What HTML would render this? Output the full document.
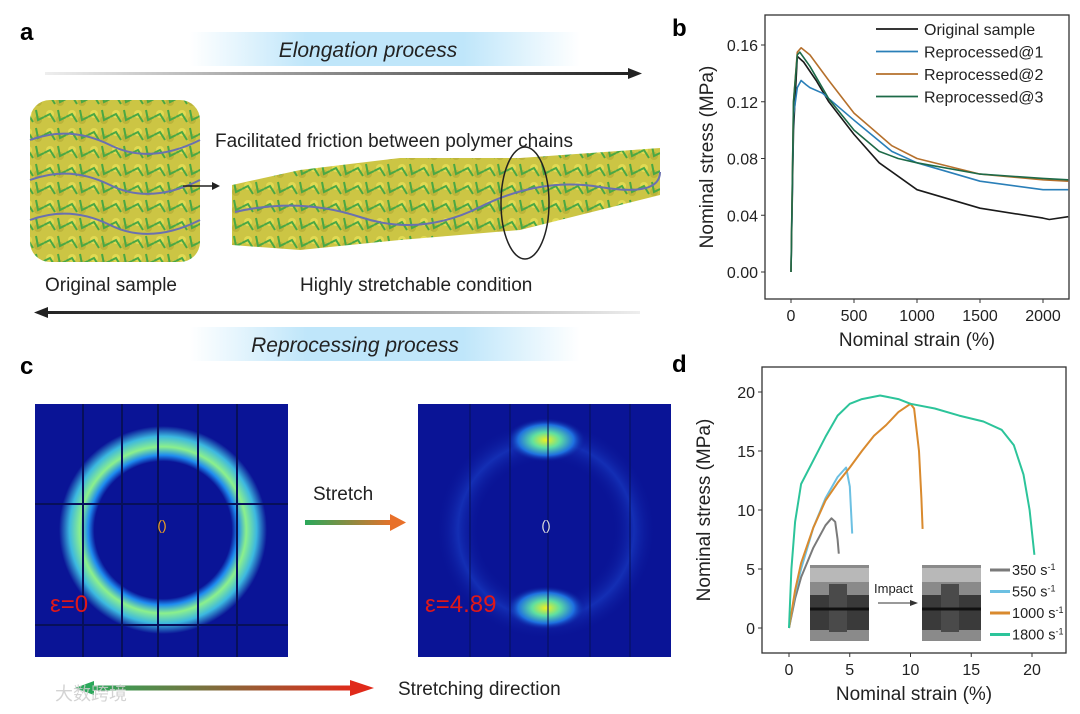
<!DOCTYPE html>
<html><head><meta charset="utf-8"><style>
html,body{margin:0;padding:0;background:#fff;}
svg{display:block;font-family:"Liberation Sans","Noto Sans CJK SC",sans-serif;}
</style></head><body>
<svg id="fig" width="1080" height="714" viewBox="0 0 1080 714">
<defs>
<linearGradient id="glow" x1="0" x2="1"><stop offset="0" stop-color="#fff"/><stop offset="0.3" stop-color="#bfe6fa"/><stop offset="0.7" stop-color="#bfe6fa"/><stop offset="1" stop-color="#fff"/></linearGradient>
<linearGradient id="lineG" x1="0" x2="1"><stop offset="0" stop-color="#eee"/><stop offset="1" stop-color="#222"/></linearGradient>
<linearGradient id="lineG2" x1="0" x2="1"><stop offset="0" stop-color="#222"/><stop offset="1" stop-color="#eee"/></linearGradient>
<linearGradient id="gr" x1="0" x2="1"><stop offset="0" stop-color="#2aa85a"/><stop offset="1" stop-color="#e8702a"/></linearGradient>
<linearGradient id="gr2" x1="0" x2="1"><stop offset="0" stop-color="#2aa85a"/><stop offset="1" stop-color="#e02a1a"/></linearGradient>
<radialGradient id="ring" cx="0.5" cy="0.5" r="0.5"><stop offset="0.66" stop-color="#0a1496"/><stop offset="0.72" stop-color="#1e8cf0"/><stop offset="0.8" stop-color="#8cf08c"/><stop offset="0.9" stop-color="#3cb8e0"/><stop offset="1" stop-color="#0a1496"/></radialGradient>
<radialGradient id="spot" cx="0.5" cy="0.5" r="0.5"><stop offset="0" stop-color="#f0f020"/><stop offset="0.35" stop-color="#60e0a0"/><stop offset="0.7" stop-color="#1e70e0"/><stop offset="1" stop-color="#0a1496" stop-opacity="0"/></radialGradient>
<radialGradient id="halo" cx="0.5" cy="0.5" r="0.5"><stop offset="0.6" stop-color="#0a1496" stop-opacity="0"/><stop offset="0.8" stop-color="#1a40c8"/><stop offset="1" stop-color="#0a1496" stop-opacity="0"/></radialGradient>
<pattern id="poly" width="22" height="18" patternUnits="userSpaceOnUse"><rect width="22" height="18" fill="#c9c23a"/><circle cx="6" cy="6" r="4" fill="#e0d84a"/><circle cx="16" cy="12" r="4" fill="#b8b030"/><path d="M0 9 L6 6 L11 14 M14 2 L16 12 L22 9" stroke="#3fa33a" stroke-width="2" fill="none"/></pattern>
</defs>

<g>
<text x="20" y="40" font-size="24" font-weight="bold">a</text>
<rect x="190" y="32" width="390" height="34" fill="url(#glow)"/>
<text x="368" y="57" font-size="21" font-style="italic" text-anchor="middle" fill="#222">Elongation process</text>
<rect x="45" y="72" width="585" height="3" fill="url(#lineG)"/>
<polygon points="628,68 642,73.5 628,79" fill="#222"/>
<text x="215" y="147" font-size="19" fill="#222">Facilitated friction between polymer chains</text>
<rect x="30" y="100" width="170" height="162" rx="20" fill="url(#poly)" opacity="0.95"/>
<path d="M30 140 Q70 125 110 145 T200 140 M30 180 Q70 165 110 185 T200 180 M30 220 Q70 205 110 225 T200 220" stroke="#6a70b0" stroke-width="2" fill="none"/>
<line x1="183" y1="186" x2="212" y2="186" stroke="#222" stroke-width="1.5"/><polygon points="212,182 220,186 212,190" fill="#222"/>
<path d="M232 185 L300 170 L400 158 L520 158 L660 148 L660 195 L520 230 L400 240 L300 250 L232 245 Z" fill="url(#poly)" opacity="0.95"/>
<path d="M235 212 Q300 197 360 217 T480 207 T600 187 T660 172" stroke="#6a70b0" stroke-width="2" fill="none"/>
<ellipse cx="525" cy="203" rx="24" ry="56" fill="none" stroke="#222" stroke-width="1.5"/>
<text x="45" y="291" font-size="19" fill="#222">Original sample</text>
<text x="300" y="291" font-size="19" fill="#222">Highly stretchable condition</text>
<rect x="45" y="311" width="595" height="3" fill="url(#lineG2)"/>
<polygon points="48,307 34,312.5 48,318" fill="#222"/>
<rect x="190" y="327" width="390" height="34" fill="url(#glow)"/>
<text x="355" y="352" font-size="21" font-style="italic" text-anchor="middle" fill="#222">Reprocessing process</text>
</g>

<g>
<text x="20" y="374" font-size="24" font-weight="bold">c</text>
<g>
<rect x="35" y="404" width="253" height="253" fill="#0a1496"/>
<circle cx="163" cy="530" r="104" fill="url(#ring)"/>
<g stroke="#07105a" stroke-width="2"><line x1="83" y1="404" x2="83" y2="657"/><line x1="122" y1="404" x2="122" y2="657"/><line x1="158" y1="404" x2="158" y2="657"/><line x1="198" y1="404" x2="198" y2="657"/><line x1="237" y1="404" x2="237" y2="657"/><line x1="35" y1="504" x2="288" y2="504"/><line x1="35" y1="625" x2="288" y2="625"/></g>
<text x="162" y="530" font-size="14" fill="#f0a020" text-anchor="middle">()</text>
<text x="50" y="612" font-size="24" fill="#e01818">ε=0</text>
</g>
<text x="313" y="500" font-size="19" fill="#222">Stretch</text>
<rect x="305" y="520" width="88" height="5" fill="url(#gr)"/><polygon points="390,514 406,522.5 390,531" fill="#e8702a"/>
<g>
<rect x="418" y="404" width="253" height="253" fill="#0a1496"/>
<circle cx="546" cy="530" r="110" fill="url(#halo)" opacity="0.6"/>
<ellipse cx="546" cy="440" rx="40" ry="22" fill="url(#spot)"/>
<ellipse cx="546" cy="608" rx="40" ry="22" fill="url(#spot)"/>
<g stroke="#07105a" stroke-width="1.5" opacity="0.7"><line x1="470" y1="404" x2="470" y2="657"/><line x1="510" y1="404" x2="510" y2="657"/><line x1="548" y1="404" x2="548" y2="657"/><line x1="590" y1="404" x2="590" y2="657"/><line x1="630" y1="404" x2="630" y2="657"/></g>
<text x="546" y="530" font-size="14" fill="#ddd" text-anchor="middle">()</text>
<text x="425" y="612" font-size="24" fill="#e01818">ε=4.89</text>
</g>
<polygon points="94,681 75,688 94,695" fill="#2aa85a"/>
<rect x="90" y="685.5" width="262" height="5" fill="url(#gr2)"/>
<polygon points="350,680 374,688 350,696" fill="#e02a1a"/>
<text x="398" y="695" font-size="19" fill="#222">Stretching direction</text>
<text x="55" y="700" font-size="18" fill="#ccc" opacity="0.85">大数跨境</text>
</g>

<g id="pb">
<text x="672" y="36" font-size="24" font-weight="bold">b</text>
</g>
<g id="pd">
<text x="672" y="372" font-size="24" font-weight="bold">d</text>
</g>
</svg>
<script>
const bTicksX = [0, 500, 1000, 1500, 2000];
const bTicksY = [0.00, 0.04, 0.08, 0.12, 0.16];
const bNames = ["Original sample", "Reprocessed@1", "Reprocessed@2", "Reprocessed@3"];
const bOrigX = [0,20,50,100,200,300,500,700,1000,1500,2000,2050,2200];
const bOrigY = [0,0.1,0.152,0.148,0.135,0.12,0.097,0.077,0.058,0.045,0.038,0.037,0.039];
const bRep1X = [0,20,50,80,120,150,250,500,800,1000,1500,2000,2200];
const bRep1Y = [0,0.11,0.13,0.135,0.132,0.130,0.126,0.107,0.085,0.077,0.064,0.058,0.058];
const bRep2X = [0,20,50,80,150,300,500,800,1000,1500,2000,2200];
const bRep2Y = [0,0.12,0.155,0.158,0.153,0.135,0.112,0.089,0.080,0.069,0.065,0.064];
const bRep3X = [0,20,50,70,150,300,500,700,850,1000,1500,2000,2200];
const bRep3Y = [0,0.12,0.153,0.155,0.145,0.122,0.100,0.085,0.080,0.077,0.069,0.066,0.065];
const dTicksX = [0, 5, 10, 15, 20];
const dTicksY = [0, 5, 10, 15, 20];
const dNames = ["350 s", "550 s", "1000 s", "1800 s"];
const d350X = [0,0.5,1,2,3,3.5,3.8,4,4.1];
const d350Y = [0,2.5,4.3,6.8,8.7,9.3,9.0,7.5,6.3];
const d550X = [0,0.5,1,2,3,4,4.7,5,5.2];
const d550Y = [0,3,5,8.5,11,12.8,13.6,12,8];
const d1000X = [0,0.5,1,2,3,4,5,6,7,8,9,10,10.3,10.7,10.9,11];
const d1000Y = [0,3.2,5.5,8.5,10.8,12.3,13.6,15,16.3,17.2,18.3,19,18.6,15,11,8.4];
const d1800X = [0,0.2,0.5,1,2,3,4,5,6,7.5,9,10,12,14,16,17.5,18.5,19.3,19.8,20.2];
const d1800Y = [0,5,9,12.2,14.2,16.2,18,19,19.4,19.7,19.4,19,18.6,18,17.5,16.8,15.5,13,10,6.2];

const NS = "http://www.w3.org/2000/svg";
function mk(parent, tag, attrs, text) {
  const e = document.createElementNS(NS, tag);
  for (const k in attrs) e.setAttribute(k, attrs[k]);
  if (text !== undefined) e.textContent = text;
  parent.appendChild(e);
  return e;
}
function drawPanel(g, box, sx, sy, ticksX, ticksY, fmtY, xTitle, yTitle, xs, ys, colors, widths, names) {
  const frame = mk(g, "rect", {x: box.x0, y: box.y0, width: box.x1 - box.x0, height: box.y1 - box.y0, fill: "none", stroke: "#333", "stroke-width": 1.3});
  
  
  ticksX.forEach(v => {
    const x = sx(v);
    mk(g, "line", {x1: x, y1: box.y1, x2: x, y2: box.y1 + 4, stroke: "#333"});
    const t = mk(g, "text", {x: x, y: box.y1 + 22, "font-size": 16, "text-anchor": "middle", fill: "#222"}, String(v));
    
    
  });
  ticksY.forEach(v => {
    const y = sy(v);
    mk(g, "line", {x1: box.x0 - 4, y1: y, x2: box.x0, y2: y, stroke: "#333"});
    const t = mk(g, "text", {x: box.x0 - 7, y: y + 6, "font-size": 16, "text-anchor": "end", fill: "#222"}, fmtY(v));
    
    
  });
  const xt = mk(g, "text", {x: (box.x0 + box.x1) / 2, y: box.y1 + 47, "font-size": 19, "text-anchor": "middle", fill: "#222"}, xTitle);
  
  
  const cy = (box.y0 + box.y1) / 2, cx = box.x0 - 52;
  const yt = mk(g, "text", {x: cx, y: cy, "font-size": 19, "text-anchor": "middle", fill: "#222", transform: `rotate(-90 ${cx} ${cy})`}, yTitle);
  
  
  xs.forEach((arr, i) => {
    const d = arr.map((v, j) => (j ? "L" : "M") + sx(v).toFixed(1) + " " + sy(ys[i][j]).toFixed(1)).join(" ");
    const p = mk(g, "path", {d: d, fill: "none", stroke: colors[i], "stroke-width": widths, "stroke-linejoin": "round"});
    
    
  });
}
const gb = document.getElementById("pb");
const bBox = {x0: 765, x1: 1069, y0: 15, y1: 299};
const bsx = v => 791 + v * (1043 - 791) / 2000;
const bsy = v => 272 - v * (272 - 45) / 0.16;
const bColors = ["#1a1a1a", "#2a7fb8", "#b5702c", "#1d6a48"];
drawPanel(gb, bBox, bsx, bsy, bTicksX, bTicksY, v => v.toFixed(2), "Nominal strain (%)", "Nominal stress (MPa)",
  [bOrigX, bRep1X, bRep2X, bRep3X], [bOrigY, bRep1Y, bRep2Y, bRep3Y], bColors, 1.6, bNames);
bNames.forEach((n, i) => {
  const y = 29 + i * 22.5;
  const l = mk(gb, "line", {x1: 876, y1: y, x2: 918, y2: y, stroke: bColors[i], "stroke-width": 1.8});
  
  
  const t = mk(gb, "text", {x: 924, y: y + 6, "font-size": 16, fill: "#222"}, n);
  
  
});
const gd = document.getElementById("pd");
const dBox = {x0: 762, x1: 1066, y0: 367, y1: 653};
const dsx = v => 789 + v * (1032 - 789) / 20;
const dsy = v => 628 - v * (628 - 392) / 20;
const dColors = ["#7a7a7a", "#6cc0e2", "#d98a2e", "#2cc49a"];
[810, 922].forEach((x, i) => {
  const r = mk(gd, "rect", {x: x, y: 565, width: 59, height: 76, fill: "#8a8a8a"});
  
  
  mk(gd, "rect", {x: x, y: 568, width: 59, height: 14, fill: "#b8b8b8"});
  mk(gd, "rect", {x: x, y: 595, width: 59, height: 35, fill: "#3a3a3a"});
  mk(gd, "rect", {x: x + 19, y: 584, width: 18, height: 48, fill: "#4a4a4a"});
  mk(gd, "line", {x1: x, y1: 609, x2: x + 59, y2: 609, stroke: "#111", "stroke-width": 3});
});
const it = mk(gd, "text", {x: 874, y: 593, "font-size": 13, fill: "#222"}, "Impact");


mk(gd, "line", {x1: 878, y1: 603, x2: 910, y2: 603, stroke: "#333"});
mk(gd, "polygon", {points: "910,600 918,603 910,606", fill: "#333"});
drawPanel(gd, dBox, dsx, dsy, dTicksX, dTicksY, v => String(v), "Nominal strain (%)", "Nominal stress (MPa)",
  [d350X, d550X, d1000X, d1800X], [d350Y, d550Y, d1000Y, d1800Y], dColors, 2, dNames);
dNames.forEach((n, i) => {
  const y = 570 + i * 21.5;
  const l = mk(gd, "line", {x1: 990, y1: y, x2: 1010, y2: y, stroke: dColors[i], "stroke-width": 3});
  
  
  const t = mk(gd, "text", {x: 1012, y: y + 5, "font-size": 14.5, fill: "#222"});
  
  
  t.textContent = n;
  mk(t, "tspan", {dy: -5, "font-size": 9}, "-1");
});
</script>
</body></html>
